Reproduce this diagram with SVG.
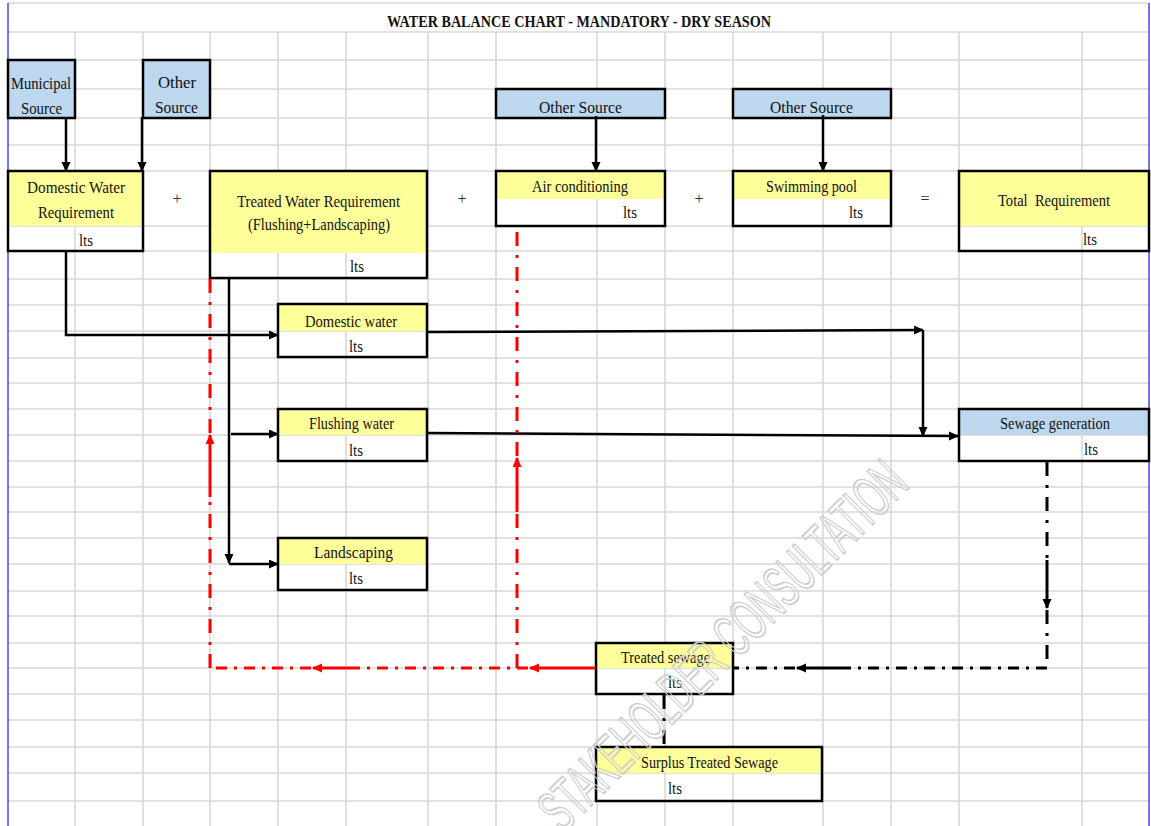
<svg xmlns="http://www.w3.org/2000/svg" width="1151" height="826" viewBox="0 0 1151 826">
  <defs>
    <style>
      .grid line { stroke: #d9d9d9; stroke-width: 1.6; }
      .edge { stroke: #3c3cf0; stroke-width: 1.4; }
      .box { fill: none; stroke: #000; stroke-width: 2.5; }
      .yel { fill: #ffff99; }
      .blu { fill: #bdd7ee; }
      .t { font-family: "Liberation Serif", "Times New Roman", serif; font-size: 17px; fill: #111; }
      .title { font-family: "Liberation Serif", "Times New Roman", serif; font-size: 17px; font-weight: bold; fill: #111; }
      .op { font-family: "Liberation Serif", "Times New Roman", serif; font-size: 16px; fill: #333; text-anchor: middle; }
      .k { fill: none; stroke: #000; stroke-width: 2.5; }
      .kd { fill: none; stroke: #000; stroke-width: 3; }
      .kdv { stroke-dasharray: 14 9 3 9; }
      .kdh { stroke-dasharray: 11 7 3 7; }
      .r { fill: none; stroke: #ff0000; stroke-width: 3; }
      .rdv { stroke-dasharray: 14 9 3 9; }
      .rdh { stroke-dasharray: 11 7 3 7; }
      .wm { font-family: "Liberation Sans", Arial, sans-serif; font-size: 60px; fill: none; stroke: #cdcdcd; stroke-width: 1.8; }
    </style>
    <marker id="ak" markerUnits="userSpaceOnUse" markerWidth="12" markerHeight="10" refX="9" refY="4.5" orient="auto">
      <path d="M0,0 L10,4.5 L0,9 z" fill="#000"/>
    </marker>
    <marker id="ar" markerUnits="userSpaceOnUse" markerWidth="12" markerHeight="10" refX="9" refY="4.5" orient="auto">
      <path d="M0,0 L10,4.5 L0,9 z" fill="#ff0000"/>
    </marker>
  </defs>

  <rect x="0" y="0" width="1151" height="826" fill="#fff"/>

  <!-- sheet grid -->
  <g class="grid">
    <line x1="8" y1="3" x2="1149" y2="3"/>
    <line x1="8" y1="32" x2="1149" y2="32"/>
    <line x1="8" y1="60" x2="1149" y2="60"/>
    <line x1="8" y1="89" x2="1149" y2="89"/>
    <line x1="8" y1="118" x2="1149" y2="118"/>
    <line x1="8" y1="145" x2="1149" y2="145"/>
    <line x1="8" y1="171" x2="1149" y2="171"/>
    <line x1="8" y1="226" x2="1149" y2="226"/>
    <line x1="8" y1="251" x2="1149" y2="251"/>
    <line x1="8" y1="279" x2="1149" y2="279"/>
    <line x1="8" y1="305" x2="1149" y2="305"/>
    <line x1="8" y1="331" x2="1149" y2="331"/>
    <line x1="8" y1="358" x2="1149" y2="358"/>
    <line x1="8" y1="383" x2="1149" y2="383"/>
    <line x1="8" y1="409" x2="1149" y2="409"/>
    <line x1="8" y1="435" x2="1149" y2="435"/>
    <line x1="8" y1="461" x2="1149" y2="461"/>
    <line x1="8" y1="487" x2="1149" y2="487"/>
    <line x1="8" y1="512" x2="1149" y2="512"/>
    <line x1="8" y1="538" x2="1149" y2="538"/>
    <line x1="8" y1="564" x2="1149" y2="564"/>
    <line x1="8" y1="591" x2="1149" y2="591"/>
    <line x1="8" y1="616" x2="1149" y2="616"/>
    <line x1="8" y1="643" x2="1149" y2="643"/>
    <line x1="8" y1="668" x2="1149" y2="668"/>
    <line x1="8" y1="694" x2="1149" y2="694"/>
    <line x1="8" y1="720" x2="1149" y2="720"/>
    <line x1="8" y1="747" x2="1149" y2="747"/>
    <line x1="8" y1="773" x2="1149" y2="773"/>
    <line x1="8" y1="801" x2="1149" y2="801"/>
    <line x1="75" y1="32" x2="75" y2="826"/>
    <line x1="143" y1="32" x2="143" y2="826"/>
    <line x1="210" y1="32" x2="210" y2="826"/>
    <line x1="278" y1="32" x2="278" y2="826"/>
    <line x1="346" y1="32" x2="346" y2="826"/>
    <line x1="428" y1="32" x2="428" y2="826"/>
    <line x1="496" y1="32" x2="496" y2="826"/>
    <line x1="597" y1="32" x2="597" y2="826"/>
    <line x1="665" y1="32" x2="665" y2="826"/>
    <line x1="733" y1="32" x2="733" y2="826"/>
    <line x1="823" y1="32" x2="823" y2="826"/>
    <line x1="891" y1="32" x2="891" y2="826"/>
    <line x1="959" y1="32" x2="959" y2="826"/>
    <line x1="1082" y1="32" x2="1082" y2="826"/>
  </g>
  <line class="edge" x1="8" y1="3" x2="8" y2="826"/>
  <line class="edge" x1="1149" y1="3" x2="1149" y2="826"/>

  <text class="title" x="387" y="27" textLength="384" lengthAdjust="spacingAndGlyphs">WATER BALANCE CHART - MANDATORY - DRY SEASON</text>

  <!-- sources -->
  <g id="municipal-source">
    <rect class="blu" x="8" y="60" width="67" height="58"/>
    <rect class="box" x="8" y="60" width="67" height="58"/>
    <text class="t" x="11" y="89" textLength="60" lengthAdjust="spacingAndGlyphs">Municipal</text>
    <text class="t" x="21" y="114" textLength="41" lengthAdjust="spacingAndGlyphs">Source</text>
  </g>
  <g id="other-source-1">
    <rect class="blu" x="143" y="60" width="67" height="58"/>
    <rect class="box" x="143" y="60" width="67" height="58"/>
    <text class="t" x="158" y="88" textLength="38" lengthAdjust="spacingAndGlyphs">Other</text>
    <text class="t" x="155" y="113" textLength="43" lengthAdjust="spacingAndGlyphs">Source</text>
  </g>
  <g id="other-source-2">
    <rect class="blu" x="496" y="89" width="169" height="29"/>
    <rect class="box" x="496" y="89" width="169" height="29"/>
    <text class="t" x="539" y="113" textLength="83" lengthAdjust="spacingAndGlyphs">Other Source</text>
  </g>
  <g id="other-source-3">
    <rect class="blu" x="733" y="89" width="158" height="29"/>
    <rect class="box" x="733" y="89" width="158" height="29"/>
    <text class="t" x="770" y="113" textLength="83" lengthAdjust="spacingAndGlyphs">Other Source</text>
  </g>

  <!-- requirements row -->
  <g id="domestic-requirement">
    <rect class="yel" x="8" y="171" width="135" height="55"/>
    <rect class="box" x="8" y="171" width="135" height="80"/>
    <text class="t" x="27" y="193" textLength="98" lengthAdjust="spacingAndGlyphs">Domestic Water</text>
    <text class="t" x="38" y="218" textLength="76" lengthAdjust="spacingAndGlyphs">Requirement</text>
    <text class="t" x="79" y="246" textLength="14" lengthAdjust="spacingAndGlyphs">lts</text>
  </g>
  <g id="treated-requirement">
    <rect class="yel" x="210" y="171" width="217" height="82"/>
    <rect class="box" x="210" y="171" width="217" height="107"/>
    <text class="t" x="237" y="207" textLength="163" lengthAdjust="spacingAndGlyphs">Treated Water Requirement</text>
    <text class="t" x="248" y="230" textLength="142" lengthAdjust="spacingAndGlyphs">(Flushing+Landscaping)</text>
    <text class="t" x="350" y="272" textLength="14" lengthAdjust="spacingAndGlyphs">lts</text>
  </g>
  <g id="air-conditioning">
    <rect class="yel" x="496" y="171" width="169" height="28"/>
    <rect class="box" x="496" y="171" width="169" height="55"/>
    <text class="t" x="532" y="192" textLength="96" lengthAdjust="spacingAndGlyphs">Air conditioning</text>
    <text class="t" x="623" y="218" textLength="14" lengthAdjust="spacingAndGlyphs">lts</text>
  </g>
  <g id="swimming-pool">
    <rect class="yel" x="733" y="171" width="158" height="28"/>
    <rect class="box" x="733" y="171" width="158" height="55"/>
    <text class="t" x="766" y="192" textLength="91" lengthAdjust="spacingAndGlyphs">Swimming pool</text>
    <text class="t" x="849" y="218" textLength="14" lengthAdjust="spacingAndGlyphs">lts</text>
  </g>
  <g id="total-requirement">
    <rect class="yel" x="959" y="171" width="190" height="55"/>
    <rect class="box" x="959" y="171" width="190" height="80"/>
    <text class="t" x="998" y="206" textLength="112" lengthAdjust="spacingAndGlyphs" style="white-space:pre">Total  Requirement</text>
    <text class="t" x="1083" y="245" textLength="14" lengthAdjust="spacingAndGlyphs">lts</text>
  </g>
  <text class="op" x="177" y="204">+</text>
  <text class="op" x="462" y="204">+</text>
  <text class="op" x="699" y="204">+</text>
  <text class="op" x="925" y="204">=</text>

  <!-- uses -->
  <g id="domestic-water">
    <rect class="yel" x="278" y="304" width="149" height="27"/>
    <rect class="box" x="278" y="304" width="149" height="53"/>
    <text class="t" x="305" y="327" textLength="92" lengthAdjust="spacingAndGlyphs">Domestic water</text>
    <text class="t" x="349" y="352" textLength="14" lengthAdjust="spacingAndGlyphs">lts</text>
  </g>
  <g id="flushing-water">
    <rect class="yel" x="278" y="409" width="149" height="26"/>
    <rect class="box" x="278" y="409" width="149" height="52"/>
    <text class="t" x="309" y="429" textLength="85" lengthAdjust="spacingAndGlyphs">Flushing water</text>
    <text class="t" x="349" y="456" textLength="14" lengthAdjust="spacingAndGlyphs">lts</text>
  </g>
  <g id="landscaping">
    <rect class="yel" x="278" y="538" width="149" height="26"/>
    <rect class="box" x="278" y="538" width="149" height="52"/>
    <text class="t" x="314" y="558" textLength="79" lengthAdjust="spacingAndGlyphs">Landscaping</text>
    <text class="t" x="349" y="584" textLength="14" lengthAdjust="spacingAndGlyphs">lts</text>
  </g>
  <g id="sewage-generation">
    <rect class="blu" x="959" y="409" width="190" height="26"/>
    <rect class="box" x="959" y="409" width="190" height="52"/>
    <text class="t" x="1000" y="429" textLength="110" lengthAdjust="spacingAndGlyphs">Sewage generation</text>
    <text class="t" x="1084" y="455" textLength="14" lengthAdjust="spacingAndGlyphs">lts</text>
  </g>
  <g id="treated-sewage">
    <rect class="yel" x="596" y="643" width="137" height="25"/>
    <rect class="box" x="596" y="643" width="137" height="51"/>
    <text class="t" x="621" y="663" textLength="89" lengthAdjust="spacingAndGlyphs">Treated sewage</text>
    <text class="t" x="668" y="688" textLength="14" lengthAdjust="spacingAndGlyphs">lts</text>
  </g>
  <g id="surplus-treated-sewage">
    <rect class="yel" x="596" y="747" width="226" height="26"/>
    <rect class="box" x="596" y="747" width="226" height="54"/>
    <text class="t" x="641" y="768" textLength="137" lengthAdjust="spacingAndGlyphs">Surplus Treated Sewage</text>
    <text class="t" x="668" y="794" textLength="14" lengthAdjust="spacingAndGlyphs">lts</text>
  </g>

  <!-- flows -->
  <g id="connectors">
    <line class="k" x1="66" y1="117" x2="66" y2="171" marker-end="url(#ak)"/>
    <line class="k" x1="142" y1="117" x2="142" y2="171" marker-end="url(#ak)"/>
    <line class="k" x1="596" y1="116" x2="596" y2="171" marker-end="url(#ak)"/>
    <line class="k" x1="823" y1="115" x2="823" y2="171" marker-end="url(#ak)"/>
    <polyline class="k" points="66,251 66,335 278,335" marker-end="url(#ak)"/>
    <line class="k" x1="229" y1="278" x2="229" y2="563" marker-end="url(#ak)"/>
    <line class="k" x1="231" y1="434" x2="278" y2="434" marker-end="url(#ak)"/>
    <line class="k" x1="229" y1="564" x2="278" y2="564" marker-end="url(#ak)"/>
    <line class="k" x1="427" y1="332" x2="923" y2="330" marker-end="url(#ak)"/>
    <line class="k" x1="923" y1="330" x2="923" y2="436" marker-end="url(#ak)"/>
    <line class="k" x1="427" y1="433" x2="958" y2="436" marker-end="url(#ak)"/>

    <!-- sewage to treatment -->
    <line class="kd kdv" x1="1047" y1="462" x2="1047" y2="560"/>
    <line class="kd" x1="1047" y1="560" x2="1047" y2="608" marker-end="url(#ak)"/>
    <line class="kd kdv" x1="1047" y1="610" x2="1047" y2="668"/>
    <line class="kd kdh" x1="1047" y1="668" x2="845" y2="668"/>
    <line class="kd" x1="845" y1="668" x2="797" y2="668" marker-end="url(#ak)"/>
    <line class="kd kdh" x1="795" y1="668" x2="734" y2="668"/>
    <line class="kd kdv" x1="664" y1="695" x2="664" y2="747"/>

    <!-- treated sewage reuse -->
    <line class="r" x1="595" y1="668" x2="530" y2="668" marker-end="url(#ar)"/>
    <line class="r rdh" x1="528" y1="668" x2="357" y2="668"/>
    <line class="r" x1="357" y1="668" x2="313" y2="668" marker-end="url(#ar)"/>
    <line class="r rdh" x1="311" y1="668" x2="210" y2="668"/>
    <line class="r rdv" x1="210" y1="668" x2="210" y2="497"/>
    <line class="r" x1="210" y1="497" x2="210" y2="435" marker-end="url(#ar)"/>
    <line class="r rdv" x1="210" y1="433" x2="210" y2="279"/>
    <line class="r rdv" x1="517" y1="668" x2="517" y2="512"/>
    <line class="r" x1="517" y1="512" x2="517" y2="458" marker-end="url(#ar)"/>
    <line class="r rdv" x1="517" y1="456" x2="517" y2="227"/>
  </g>

  <text class="wm" transform="translate(563,834) rotate(-45)" x="0" y="0" textLength="492" lengthAdjust="spacingAndGlyphs">STAKEHOLDER CONSULTATION</text>
</svg>
